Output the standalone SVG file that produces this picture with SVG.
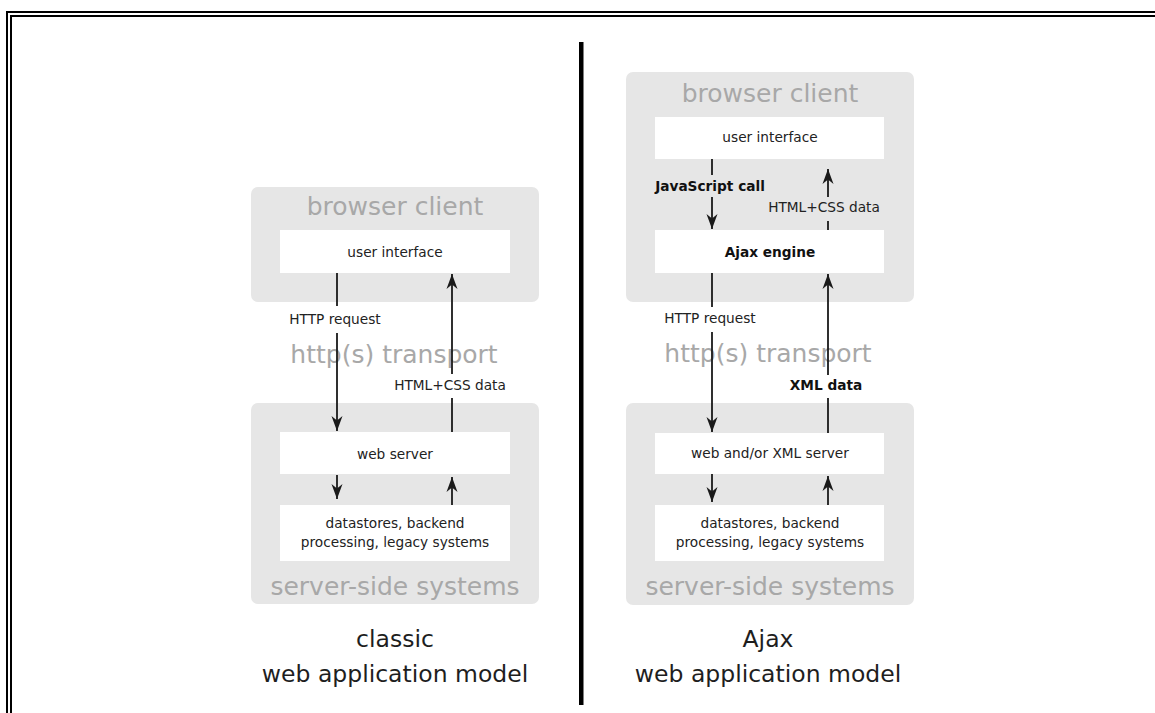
<svg xmlns="http://www.w3.org/2000/svg" width="1155" height="713" viewBox="0 0 1155 713">
<style>
.zone{fill:#e6e6e6}
.box{fill:#ffffff}
.big{font-family:"DejaVu Sans",Verdana,sans-serif;font-size:25px;fill:#a8a8a8;text-anchor:middle}
.sm{font-family:"DejaVu Sans",Verdana,sans-serif;font-size:13.7px;fill:#222;text-anchor:middle}
.b{font-weight:bold;fill:#111}
.cap{font-family:"DejaVu Sans",Verdana,sans-serif;font-size:23.5px;fill:#1e1e1e;text-anchor:middle}
.ln{fill:none;stroke:#1a1a1a;stroke-width:1.8}
</style>
<defs>
<marker id="ah" markerUnits="userSpaceOnUse" markerWidth="16" markerHeight="14" viewBox="0 -7 16 14" refX="15" refY="0" orient="auto">
<path d="M0,-5.5 L15,0 L0,5.5 L4.5,0 Z" fill="#1a1a1a"/>
</marker>
</defs>
<rect width="1155" height="713" fill="#fff"/>
<g id="frame" fill="#000">
<rect x="6" y="11" width="1149" height="2"/>
<rect x="10" y="15" width="1145" height="2"/>
<rect x="6" y="11" width="2" height="702"/>
<rect x="10" y="15" width="2" height="698"/>
</g>
<rect id="divider" x="579" y="42" width="4.5" height="663" fill="#000"/>

<g id="classic-browser-client">
<rect class="zone" x="251" y="187" width="288" height="115" rx="7"/>
<text class="big" x="395" y="215">browser client</text>
</g>
<g id="classic-user-interface">
<rect class="box" x="280" y="230" width="230" height="43"/>
<text class="sm" x="395" y="257">user interface</text>
</g>
<g id="classic-server-side">
<rect class="zone" x="251" y="403" width="288" height="201" rx="7"/>
<text class="big" x="395" y="595">server-side systems</text>
</g>
<g id="classic-web-server">
<rect class="box" x="280" y="432" width="230" height="42"/>
<text class="sm" x="395" y="459">web server</text>
</g>
<g id="classic-datastores">
<rect class="box" x="280" y="505" width="230" height="56"/>
<text class="sm" x="395" y="528">datastores, backend</text>
<text class="sm" x="395" y="547">processing, legacy systems</text>
</g>
<text class="big" x="394" y="363">http(s) transport</text>
<g id="classic-caption">
<text class="cap" x="395" y="647">classic</text>
<text class="cap" x="395" y="682">web application model</text>
</g>

<g id="ajax-browser-client">
<rect class="zone" x="626" y="72" width="288" height="230" rx="7"/>
<text class="big" x="770" y="102">browser client</text>
</g>
<g id="ajax-user-interface">
<rect class="box" x="655" y="117" width="229" height="42"/>
<text class="sm" x="770" y="142">user interface</text>
</g>
<g id="ajax-engine">
<rect class="box" x="655" y="230" width="229" height="43"/>
<text class="sm b" x="770" y="257">Ajax engine</text>
</g>
<g id="ajax-server-side">
<rect class="zone" x="626" y="403" width="288" height="202" rx="7"/>
<text class="big" x="770" y="595">server-side systems</text>
</g>
<g id="ajax-web-server">
<rect class="box" x="655" y="433" width="229" height="41"/>
<text class="sm" x="770" y="458">web and/or XML server</text>
</g>
<g id="ajax-datastores">
<rect class="box" x="655" y="505" width="229" height="56"/>
<text class="sm" x="770" y="528">datastores, backend</text>
<text class="sm" x="770" y="547">processing, legacy systems</text>
</g>
<text class="big" x="768" y="362">http(s) transport</text>
<g id="ajax-caption">
<text class="cap" x="768" y="647">Ajax</text>
<text class="cap" x="768" y="682">web application model</text>
</g>

<g id="connectors">
<path class="ln" d="M337,273 V306 M337,333 V431" marker-end="url(#ah)"/>
<path class="ln" d="M452,432 V398 M452,374 V274" marker-end="url(#ah)"/>
<path class="ln" d="M337,475 V499" marker-end="url(#ah)"/>
<path class="ln" d="M452,505 V477" marker-end="url(#ah)"/>
<path class="ln" d="M712,159 V175 M712,197 V229" marker-end="url(#ah)"/>
<path class="ln" d="M828,230 V221 M828,197 V169" marker-end="url(#ah)"/>
<path class="ln" d="M712,273 V307 M712,332 V432" marker-end="url(#ah)"/>
<path class="ln" d="M828,433 V398 M828,375 V274" marker-end="url(#ah)"/>
<path class="ln" d="M712,474 V502" marker-end="url(#ah)"/>
<path class="ln" d="M828,505 V476" marker-end="url(#ah)"/>
<text class="sm" x="335" y="324">HTTP request</text>
<text class="sm" x="450" y="390">HTML+CSS data</text>
<text class="sm b" x="710" y="191">JavaScript call</text>
<text class="sm" x="824" y="212">HTML+CSS data</text>
<text class="sm" x="710" y="323">HTTP request</text>
<text class="sm b" x="826" y="390">XML data</text>
</g>
</svg>
